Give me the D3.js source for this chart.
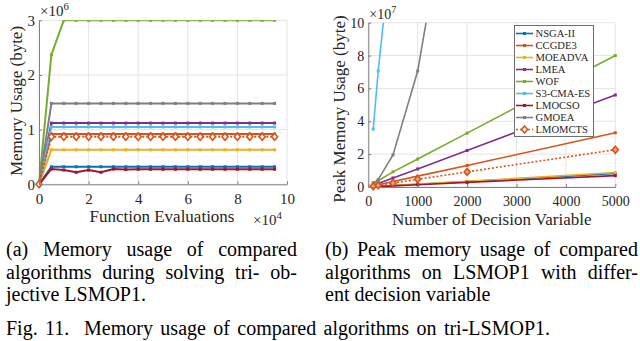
<!DOCTYPE html>
<html lang="en">
<head>
<meta charset="UTF-8">
<title>Memory usage of compared algorithms</title>
<style>
    body { margin: 0; background: #fff; }
    svg { display: block; font-family: "Liberation Serif", "Times New Roman", serif; }
    svg text { font-family: "Liberation Serif", "Times New Roman", serif !important; }
    .tick text, .lab { fill: #262626; }
    .axis path, .axis line { stroke: #808080; }
    .grid line { stroke: #e4e4e4; stroke-width: 1; }
    .cap { fill: #000; font-size: 20px; }
</style>
</head>
<body>
<svg width="640" height="341"></svg>
<script src="https://d3js.org/d3.v7.min.js"></script>
<script>
// ---- data ----
var algorithms = ["NSGA-II", "CCGDE3", "MOEADVA", "LMEA", "WOF", "S3-CMA-ES", "LMOCSO", "GMOEA", "LMOMCTS"];

// (a) function evaluations (x 10^4) and memory usage (x 10^6 byte)
var evals = [0, 0.5, 1, 1.5, 2, 2.5, 3, 3.5, 4, 4.5, 5, 5.5, 6, 6.5, 7, 7.5, 8, 8.5, 9, 9.5];
var memNSGA2   = [0, .32, .32, .32, .32, .32, .32, .32, .32, .32, .32, .32, .32, .32, .32, .32, .32, .32, .32, .32];
var memCCGDE3  = [0, .92, .92, .92, .92, .92, .92, .92, .92, .92, .92, .92, .92, .92, .92, .92, .92, .92, .92, .92];
var memMOEADVA = [0, .63, .63, .63, .63, .63, .63, .63, .63, .63, .63, .63, .63, .63, .63, .63, .63, .63, .63, .63];
var memLMEA    = [0, 1.12, 1.12, 1.12, 1.12, 1.12, 1.12, 1.12, 1.12, 1.12, 1.12, 1.12, 1.12, 1.12, 1.12, 1.12, 1.12, 1.12, 1.12, 1.12];
var memWOF     = [0, 2.37, 3, 3, 3, 3, 3, 3, 3, 3, 3, 3, 3, 3, 3, 3, 3, 3, 3, 3];
var memS3CMA   = [0, 1.05, 1.05, 1.05, 1.05, 1.05, 1.05, 1.05, 1.05, 1.05, 1.05, 1.05, 1.05, 1.05, 1.05, 1.05, 1.05, 1.05, 1.05, 1.05];
var memLMOCSO  = [0, .28, .26, .22, .26, .22, .28, .27, .275, .275, .275, .275, .275, .275, .275, .275, .275, .275, .275, .275];
var memGMOEA   = [0, 1.48, 1.48, 1.48, 1.48, 1.48, 1.48, 1.48, 1.48, 1.48, 1.48, 1.48, 1.48, 1.48, 1.48, 1.48, 1.48, 1.48, 1.48, 1.48];
var memLMOMCTS = [0, .87, .87, .87, .87, .87, .87, .87, .87, .87, .87, .87, .87, .87, .87, .87, .87, .87, .87, .87];

// (b) number of decision variables and peak memory usage (x 10^7 byte)
var dims = [100, 200, 500, 1000, 2000, 5000];
var peakNSGA2   = [0.02, 0.04, 0.09, 0.17, 0.33, 0.82];
var peakCCGDE3  = [0.07, 0.13, 0.33, 0.66, 1.31, 3.3];
var peakMOEADVA = [0.02, 0.04, 0.09, 0.18, 0.35, 0.88];
var peakLMEA    = [0.11, 0.22, 0.55, 1.1, 2.22, 5.6];
var peakWOF     = [0.27, 0.38, 0.92, 1.7, 3.28, 8.0];
var peakS3CMA   = [3.52, 7.06, 15.5, 31, 62, 155];
var peakLMOCSO  = [0.015, 0.03, 0.07, 0.14, 0.28, 0.69];
var peakGMOEA   = [0.15, 0.45, 1.95, 7.06, 24.5, 62];
var peakLMOMCTS = [0.05, 0.1, 0.24, 0.47, 0.92, 2.27];

var xTicksA = [0, 2, 4, 6, 8, 10], yTicksA = [0, 1, 2, 3];
var xTicksB = [0, 1000, 2000, 3000, 4000, 5000], yTicksB = [0, 2, 4, 6, 8, 10];

var colors = ["#0072BD", "#D95319", "#EDB120", "#7E2F8E", "#77AC30", "#4DBEEE", "#A2142F", "#7F7F7F", "#D95319"];

var FONT = '"Liberation Serif", "Times New Roman", serif';
var diamond = "M0,-3.5L3,0L0,3.5L-3,0Z";

var svg = d3.select("svg").attr("font-family", FONT);
svg.append("rect").attr("width", 640).attr("height", 341).attr("fill", "#fff");

function panel(o) {
    var x = d3.scaleLinear().domain(o.xDom).range([o.left, o.right]);
    var y = d3.scaleLinear().domain(o.yDom).range([o.bottom, o.top]);
    var g = svg.append("g");

    // grid, including the box edges
    var grid = g.append("g").attr("class", "grid");
    grid.selectAll(".gx").data(o.xTicks).enter().append("line")
        .attr("x1", d => x(d)).attr("x2", d => x(d))
        .attr("y1", o.top).attr("y2", o.bottom);
    grid.selectAll(".gy").data(o.yTicks).enter().append("line")
        .attr("x1", o.left).attr("x2", o.right)
        .attr("y1", d => y(d)).attr("y2", d => y(d));

    var clipId = "clip" + o.id;
    svg.append("clipPath").attr("id", clipId).append("rect")
        .attr("x", o.left - 5).attr("y", o.top)
        .attr("width", o.right - o.left + 10).attr("height", o.bottom - o.top + 5);

    var plot = g.append("g").attr("clip-path", "url(#" + clipId + ")");
    var line = d3.line().x(d => x(d[0])).y(d => y(d[1]));

    o.series.forEach(function(vals, i) {
        var pts = o.xs.map((v, j) => [v, vals[j]]);
        var dotted = algorithms[i] === "LMOMCTS";
        plot.append("path").datum(pts)
            .attr("fill", "none")
            .attr("stroke", colors[i])
            .attr("stroke-width", o.lw)
            .attr("stroke-dasharray", dotted ? "2,2" : null)
            .attr("d", line);
        if (dotted) {
            plot.selectAll(".dm" + i).data(pts).enter().append("path")
                .attr("d", diamond)
                .attr("transform", d => "translate(" + x(d[0]) + "," + y(d[1]) + ")")
                .attr("fill", o.diamondFill).attr("stroke", colors[i]).attr("stroke-width", 1.6);
        } else {
            plot.selectAll(".mk" + i).data(pts).enter().append("rect")
                .attr("x", d => x(d[0]) - 1.5).attr("y", d => y(d[1]) - 1.5)
                .attr("width", 3).attr("height", 3)
                .attr("fill", colors[i]);
        }
    });

    // axes
    var fmt = d3.format("d");
    g.append("g").attr("class", "axis")
        .attr("transform", "translate(0," + o.bottom + ")")
        .call(d3.axisBottom(x).tickValues(o.xTicks).tickFormat(fmt).tickSizeInner(-3).tickSizeOuter(0).tickPadding(9))
        .attr("font-family", FONT)
        .call(a => a.selectAll("text").style("font-size", o.tickFs + "px"));
    g.append("g").attr("class", "axis")
        .attr("transform", "translate(" + o.left + ",0)")
        .call(d3.axisLeft(y).tickValues(o.yTicks).tickFormat(fmt).tickSizeInner(-3).tickSizeOuter(0).tickPadding(4))
        .attr("font-family", FONT)
        .call(a => a.selectAll("text").style("font-size", o.tickFs + "px"));

    // exponent labels
    function expo(tx, ty, p) {
        var t = g.append("text").attr("class", "lab").attr("x", tx).attr("y", ty)
            .style("font-size", o.tickFs + "px");
        t.append("tspan").text("\u00d710");
        t.append("tspan").attr("dy", -6).style("font-size", (o.tickFs * 0.72) + "px").text(p);
    }
    expo(o.left + 1, o.top - 4, o.yExp);
    if (o.xExp) expo(o.right - 34, o.bottom + 41, o.xExp);

    g.append("text").attr("class", "lab")
        .attr("x", (o.left + o.right) / 2 + o.xLabDx).attr("y", o.bottom + 38)
        .attr("text-anchor", "middle").style("font-size", o.labFs + "px").text(o.xLab);
    g.append("text").attr("class", "lab")
        .attr("transform", "translate(" + o.yLabX + "," + o.yLabY + ") rotate(-90)")
        .attr("text-anchor", "middle").style("font-size", o.labFs + "px").text(o.yLab);
    return {x: x, y: y, g: g};
}

panel({
    id: "a", left: 39, right: 287, top: 20.3, bottom: 184.3,
    xDom: [0, 10], yDom: [0, 3], xTicks: xTicksA, yTicks: yTicksA,
    xs: evals,
    series: [memNSGA2, memCCGDE3, memMOEADVA, memLMEA, memWOF, memS3CMA, memLMOCSO, memGMOEA, memLMOMCTS],
    lw: 2, tickFs: 15, labFs: 17, diamondFill: "#fff",
    xLab: "Function Evaluations", xLabDx: -1, yLab: "Memory Usage (byte)", yLabX: 22, yLabY: 101,
    yExp: "6", xExp: "4"
});

panel({
    id: "b", left: 368.3, right: 615.3, top: 22.7, bottom: 187,
    xDom: [0, 5000], yDom: [0, 10], xTicks: xTicksB, yTicks: yTicksB,
    xs: dims,
    series: [peakNSGA2, peakCCGDE3, peakMOEADVA, peakLMEA, peakWOF, peakS3CMA, peakLMOCSO, peakGMOEA, peakLMOMCTS],
    lw: 1.6, tickFs: 14, labFs: 17, diamondFill: "#f0a27f",
    xLab: "Number of Decision Variable", xLabDx: 0, yLab: "Peak Memory Usage (byte)", yLabX: 345, yLabY: 109,
    yExp: "7", xExp: null
});

// legend of panel (b)
var leg = svg.append("g");
leg.append("rect").attr("x", 514.5).attr("y", 25.5).attr("width", 79).attr("height", 111)
    .attr("fill", "#fff").attr("stroke", "#6e6e6e").attr("stroke-width", 1);
algorithms.forEach(function(name, i) {
    var ly = 33.5 + 12 * i;
    var dotted = name === "LMOMCTS";
    leg.append("line").attr("x1", 516).attr("x2", 533).attr("y1", ly).attr("y2", ly)
        .attr("stroke", colors[i]).attr("stroke-width", 1.6)
        .attr("stroke-dasharray", dotted ? "2,2" : null);
    if (dotted) {
        leg.append("path").attr("d", diamond)
            .attr("transform", "translate(524.5," + ly + ")")
            .attr("fill", "#fff").attr("stroke", colors[i]).attr("stroke-width", 1.6);
    } else {
        leg.append("rect").attr("x", 523).attr("y", ly - 1.5).attr("width", 3).attr("height", 3)
            .attr("fill", colors[i]);
    }
    leg.append("text").attr("class", "lab").attr("x", 535.5).attr("y", ly + 3.8)
        .style("font-size", "10.6px").text(name);
});

// captions
function capLine(words, x, y, width, justified) {
    if (!justified) {
        svg.append("text").attr("class", "cap").attr("x", x).attr("y", y)
            .attr("xml:space", "preserve").text(words.join(" "));
        return;
    }
    var nodes = words.map(w => svg.append("text").attr("class", "cap").attr("y", y).text(w));
    var widths = nodes.map(n => n.node().getComputedTextLength());
    var gap = (width - d3.sum(widths)) / (words.length - 1);
    var cx = x;
    nodes.forEach(function(n, i) { n.attr("x", cx); cx += widths[i] + gap; });
}
capLine(["(a)", "Memory", "usage", "of", "compared"], 6, 255.5, 291, true);
capLine(["algorithms", "during", "solving", "tri-", "ob-"], 6, 278.5, 291, true);
capLine(["jective", "LSMOP1."], 6, 301, 0, false);
capLine(["(b)", "Peak", "memory", "usage", "of", "compared"], 325, 255.5, 313, true);
capLine(["algorithms", "on", "LSMOP1", "with", "differ-"], 325, 278.5, 313, true);
capLine(["ent", "decision", "variable"], 325, 301, 0, false);
capLine(["Fig.", "11.", "", "Memory", "usage", "of", "compared", "algorithms", "on", "tri-LSMOP1."], 6, 334.5, 544, true);
</script>
</body>
</html>
